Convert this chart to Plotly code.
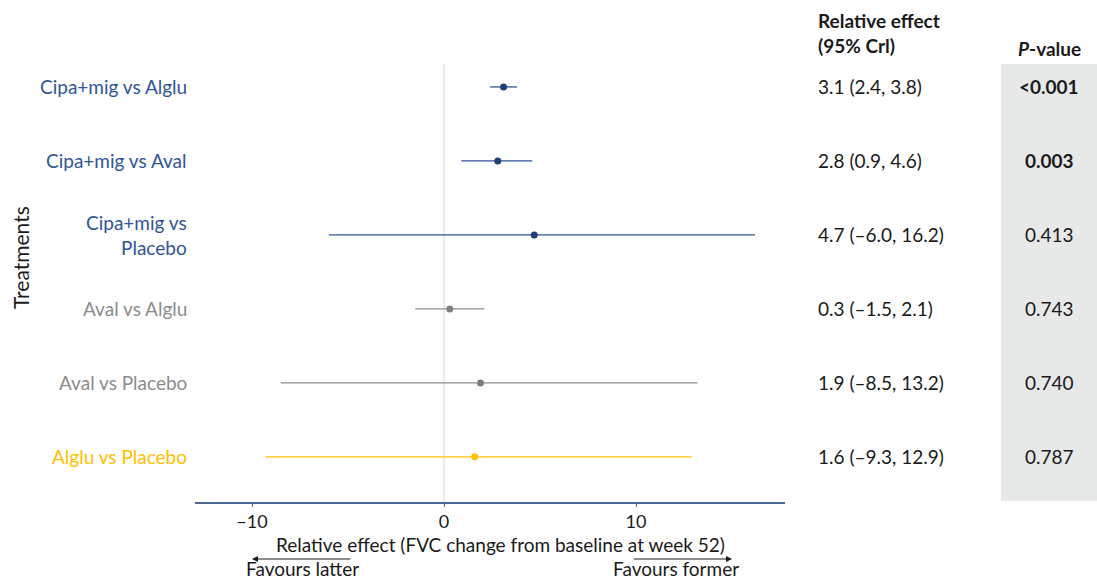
import plotly.graph_objects as go

W, H = 1097, 581

comparisons = ["Cipa+mig vs Alglu", "Cipa+mig vs Aval", "Cipa+mig vs<br>Placebo",
               "Aval vs Alglu", "Aval vs Placebo", "Alglu vs Placebo"]
estimate = [3.1, 2.8, 4.7, 0.3, 1.9, 1.6]
lower = [2.4, 0.9, -6.0, -1.5, -8.5, -9.3]
upper = [3.8, 4.6, 16.2, 2.1, 13.2, 12.9]
effect_text = ["3.1 (2.4, 3.8)", "2.8 (0.9, 4.6)", "4.7 (\u20136.0, 16.2)",
               "0.3 (\u20131.5, 2.1)", "1.9 (\u20138.5, 13.2)", "1.6 (\u20139.3, 12.9)"]
p_values = ["<0.001", "0.003", "0.413", "0.743", "0.740", "0.787"]
p_bold = [True, True, False, False, False, False]
label_colors = ["#2F5597", "#2F5597", "#2F5597", "#8C8C8C", "#8C8C8C", "#FFC000"]
line_colors = ["#2F5597", "#2F5597", "#2F5597", "#8C8C8C", "#8C8C8C", "#FFC000"]
dot_colors = ["#1F3F7A", "#1F3F7A", "#1F3F7A", "#7F7F7F", "#7F7F7F", "#FFC000"]
x_ticks = [-10, 0, 10]

FONT = "Lato, 'Open Sans', sans-serif"
FS = 19
n = len(comparisons)
ypos = [n - 1 - i for i in range(n)]

fig = go.Figure()
# zero reference line
fig.add_shape(type="line", xref="x", yref="paper", x0=0, x1=0, y0=1 - 502 / H, y1=1 - 64 / H,
              line=dict(color="#D9D9D9", width=1), layer="below")
# p-value background
fig.add_shape(type="rect", xref="paper", yref="paper", x0=1001 / W, x1=1.0,
              y0=1 - 501 / H, y1=1 - 64 / H, fillcolor="#E7E8E8", line=dict(width=0), layer="below")

for i in range(n):
    fig.add_trace(go.Scatter(
        x=[lower[i], upper[i]], y=[ypos[i], ypos[i]], mode="lines",
        line=dict(color=line_colors[i], width=1.3), showlegend=False, hoverinfo="skip"))
    fig.add_trace(go.Scatter(
        x=[estimate[i]], y=[ypos[i]], mode="markers",
        marker=dict(color=dot_colors[i], size=7), showlegend=False))

annotations = []
ymin, ymax = -0.61, 5.31

for i in range(n):
    annotations.append(dict(xref="paper", yref="y", x=189 / W, y=ypos[i], text=comparisons[i],
                            xanchor="right", yanchor="middle", align="right", showarrow=False,
                            font=dict(family=FONT, size=FS, color=label_colors[i])))
    annotations.append(dict(xref="paper", yref="y", x=816 / W, y=ypos[i], text=effect_text[i],
                            xanchor="left", yanchor="middle", showarrow=False,
                            font=dict(family=FONT, size=FS, color="#1A1A1A")))
    annotations.append(dict(xref="paper", yref="y", x=1049 / W, y=ypos[i],
                            text=("<b>%s</b>" % p_values[i]) if p_bold[i] else p_values[i],
                            xanchor="center", yanchor="middle", showarrow=False,
                            font=dict(family=FONT, size=FS, color="#1A1A1A")))

# headers
annotations.append(dict(xref="paper", yref="paper", x=816 / W, y=1 - 33 / H,
                        text="<b>Relative effect</b><br><b>(95% Crl)</b>", xanchor="left",
                        yanchor="middle", align="left", showarrow=False,
                        font=dict(family=FONT, size=FS, color="#1A1A1A")))
annotations.append(dict(xref="paper", yref="paper", x=1049 / W, y=1 - 49 / H,
                        text="<b><i>P</i>-value</b>", xanchor="center", yanchor="middle",
                        showarrow=False, font=dict(family=FONT, size=FS, color="#1A1A1A")))
# y title
annotations.append(dict(xref="paper", yref="paper", x=20 / W, y=1 - 258 / H, text="Treatments",
                        textangle=-90, xanchor="center", yanchor="middle", showarrow=False,
                        font=dict(family=FONT, size=21, color="#1A1A1A")))
# favour arrows
annotations.append(dict(xref="x", yref="paper", x=-10, y=1 - 559 / H, axref="x", ayref="pixel",
                        ax=-4.8, ay=0, text="", showarrow=True, arrowhead=2,
                        arrowsize=1, arrowwidth=1.2, arrowcolor="#1A1A1A"))
annotations.append(dict(xref="x", yref="paper", x=15, y=1 - 559 / H, axref="x", ayref="pixel",
                        ax=9.8, ay=0, text="", showarrow=True, arrowhead=2,
                        arrowsize=1, arrowwidth=1.2, arrowcolor="#1A1A1A"))
annotations.append(dict(xref="paper", yref="paper", x=302 / W, y=0, text="Favours latter",
                        xanchor="center", yanchor="bottom", showarrow=False, borderpad=0,
                        font=dict(family=FONT, size=FS, color="#1A1A1A")))
annotations.append(dict(xref="paper", yref="paper", x=676 / W, y=0, text="Favours former",
                        xanchor="center", yanchor="bottom", showarrow=False, borderpad=0,
                        font=dict(family=FONT, size=FS, color="#1A1A1A")))
annotations.append(dict(xref="paper", yref="paper", x=500 / W, y=1 - 544 / H,
                        text="Relative effect (FVC change from baseline at week 52)",
                        xanchor="center", yanchor="middle", showarrow=False, borderpad=0,
                        font=dict(family=FONT, size=FS, color="#1A1A1A")))

fig.update_layout(
    width=W, height=H, margin=dict(l=0, r=0, t=0, b=0),
    plot_bgcolor="white", paper_bgcolor="white",
    font=dict(family=FONT, size=FS, color="#1A1A1A"),
    annotations=annotations,
    xaxis=dict(domain=[195 / W, 785 / W], range=[-12.97, 17.76], tickvals=x_ticks,
               ticktext=["\u221210", "0", "10"], showgrid=False, zeroline=False,
               showline=True, linecolor="#4A6A8F", linewidth=1.5, ticks="outside",
               ticklen=3, tickcolor="#4A6A8F", tickfont=dict(family=FONT, size=18, color="#1A1A1A"),
               fixedrange=True),
    yaxis=dict(domain=[1 - 502 / H, 1 - 64 / H], range=[ymin, ymax], showgrid=False,
               zeroline=False, showticklabels=False, showline=False, fixedrange=True),
)

fig.write_html("out.html")
